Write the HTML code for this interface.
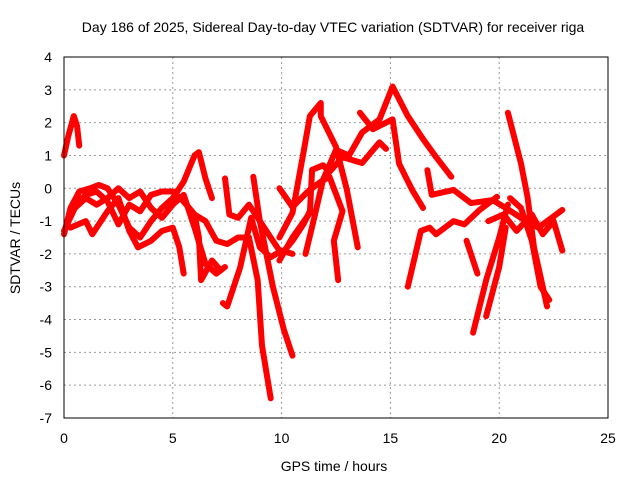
<!DOCTYPE html>
<html><head><meta charset="utf-8"><style>
body{margin:0;background:#fff;}
svg{display:block;font-family:"Liberation Sans",sans-serif;}
</style></head><body>
<svg id="chart" width="640" height="480">
<text x="333" y="32" font-size="14" text-anchor="middle">Day 186 of 2025, Sidereal Day-to-day VTEC variation (SDTVAR) for receiver riga</text>
<text x="334" y="471" font-size="14" text-anchor="middle">GPS time / hours</text>
<text transform="translate(20,238) rotate(-90)" font-size="14" text-anchor="middle">SDTVAR / TECUs</text>
<g id="grid"></g><g id="ticks"></g><g id="series"></g>
<rect x="64" y="57" width="544" height="361" fill="none" stroke="#000" stroke-width="1"/>
</svg>
<script>
const xTicks=[0,5,10,15,20,25];
const yTicks=[-7,-6,-5,-4,-3,-2,-1,0,1,2,3,4];
const traces=[
[[0,1.0],[0.2,1.6],[0.45,2.2],[0.6,1.9],[0.7,1.3]],
[[0,-1.4],[0.3,-0.6],[0.7,-0.1],[1.2,0],[1.6,0.1],[2,0],[2.5,-0.5],[3,-1.2],[3.5,-1.5],[4,-1.0],[4.5,-0.6],[5,-0.3],[5.5,0.2],[6,1.0],[6.2,1.1],[6.5,0.3],[6.8,-0.3]],
[[0,-1.3],[0.5,-0.6],[1,-0.3],[1.5,-0.5],[2,-0.3],[2.5,0.0],[3,-0.3],[3.5,-0.1],[4,-0.6],[4.5,-0.9],[5,-0.5],[5.5,-0.2],[6,-1.2],[6.5,-2.3],[7,-2.6],[7.4,-2.4]],
[[0.3,-1.2],[1,-1.0],[1.3,-1.4],[2,-0.7],[2.5,-0.3],[3,-1.3],[3.4,-1.8],[4,-1.6],[4.5,-1.3],[5,-1.2],[5.3,-1.8],[5.5,-2.6]],
[[0.5,-0.5],[1,-0.2],[1.5,-0.1],[2,-0.4],[2.5,-1.1],[3,-0.5],[3.5,-0.7],[4,-0.2],[4.5,-0.1],[5,-0.1],[5.5,-0.4],[6,-0.8],[6.5,-1.0],[7,-1.6],[7.5,-1.7],[8,-1.5],[8.5,-1.5]],
[[5.5,-0.4],[6,-0.8],[6.2,-1.5],[6.3,-2.8],[6.8,-2.2],[7.2,-2.5]],
[[7.3,-3.5],[7.5,-3.6],[8.1,-2.4],[8.4,-1.5],[8.6,-0.9],[9,-1.8],[9.5,-2.1],[10,-1.9],[10.5,-2.0]],
[[7.4,0.3],[7.6,-0.8],[8,-0.9],[8.5,-0.5],[9,-1.0],[9.5,-1.5],[10,-2.0],[10.5,-1.6],[11,-1.1],[11.3,-0.7]],
[[8.5,-1.5],[8.9,-2.8],[9.1,-4.8],[9.5,-6.4]],
[[8.7,0.35],[9,-1.0],[9.6,-3.0],[10.1,-4.3],[10.5,-5.1]],
[[9.9,-2.2],[10.5,-1.5],[11.3,-0.75],[11.4,0.56],[11.9,0.7],[12.2,0.5],[12.8,0.95],[13.7,0.77],[14.5,1.4],[14.8,1.2]],
[[11.1,-2.0],[11.5,-0.9],[11.9,0.25],[12.5,1.17],[13.1,1.0],[13.7,1.7],[14.5,2.1],[15.1,3.1],[15.8,2.2],[16.5,1.5],[17.1,0.95],[17.8,0.35]],
[[9.9,-1.5],[10.5,-0.75],[11,1.07],[11.3,2.2],[11.8,2.6],[11.8,2.2],[12.5,1.26],[13,-0.05],[13.5,-1.8]],
[[9.9,0],[10.5,-0.57],[11.2,-0.1],[11.8,0.2],[12.2,0.35],[12.8,-0.7],[12.4,-1.6],[12.6,-2.8]],
[[13.6,2.3],[14.2,1.8],[15.1,2.1],[15.4,0.75],[16,-0.05],[16.5,-0.6]],
[[15.8,-3.0],[16.4,-1.3],[16.8,-1.2],[17.1,-1.4],[17.9,-1.0],[18.4,-1.1],[19.1,-0.66],[19.9,-0.26]],
[[16.7,0.55],[16.9,-0.2],[17.9,-0.05],[18.7,-0.45],[19.7,-0.36],[20.3,-0.6],[21,-0.9],[21.8,-1.2],[22.9,-0.66]],
[[18.5,-1.6],[19,-2.6]],
[[18.8,-4.4],[19.4,-2.8],[20,-1.5],[20.4,-0.5]],
[[19.4,-3.9],[20,-2.4],[20.3,-1.2]],
[[20.4,2.3],[21,0.76],[21.3,-0.26],[21.6,-1.8],[22.2,-3.6]],
[[19.5,-1.0],[20.2,-0.8],[20.8,-1.3],[21.5,-0.8],[22,-1.4],[22.5,-1.0],[22.9,-1.9]],
[[20.5,-0.3],[21,-0.6],[21.5,-1.6],[21.9,-3.0],[22.3,-3.4]]
];
const X=t=>64+t*544/25, Y=v=>57+(4-v)*361/11;
const NS="http://www.w3.org/2000/svg";
const grid=document.getElementById('grid'),ticks=document.getElementById('ticks'),ser=document.getElementById('series');
function mk(tag,a,p){const e=document.createElementNS(NS,tag);for(const k in a)e.setAttribute(k,a[k]);p.appendChild(e);return e;}
xTicks.forEach(t=>{
 if(t>0&&t<25){const g=mk('line',{x1:X(t),x2:X(t),y1:57,y2:418,stroke:'#999','stroke-dasharray':'2,3'},grid);
 
 }
 const l=mk('text',{x:X(t),y:443,'font-size':14,'text-anchor':'middle'},ticks);l.textContent=t;
 
 
});
yTicks.forEach(v=>{
 if(v>-7&&v<4){const g=mk('line',{x1:64,x2:608,y1:Y(v),y2:Y(v),stroke:'#999','stroke-dasharray':'2,3'},grid);
 
 }
 const l=mk('text',{x:52,y:Y(v)+5,'font-size':14,'text-anchor':'end'},ticks);l.textContent=v;
 
 
});
traces.forEach(tr=>{
 const p=mk('polyline',{points:tr.map(d=>X(d[0])+','+Y(d[1])).join(' '),fill:'none',stroke:'#f00','stroke-width':6,'stroke-linejoin':'round','stroke-linecap':'round'},ser);
 
 
});
</script>
</body></html>
